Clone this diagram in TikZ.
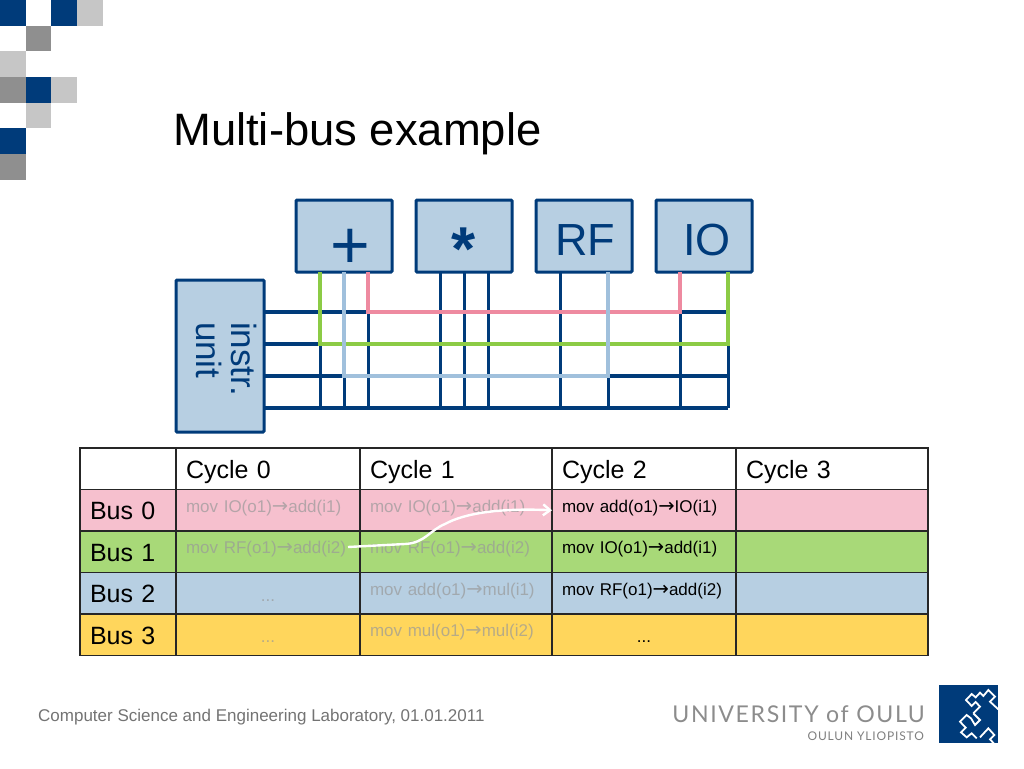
\documentclass[tikz,border=0pt]{standalone}
\usepackage{fontspec}
\setmainfont{Liberation Sans}
\newfontfamily\logofont[LetterSpace=7]{Lato}
\newfontfamily\arrowfont{DejaVu Sans}
\newcommand{\movto}{{\arrowfont\fontsize{19.5}{18}\selectfont →}}
\usetikzlibrary{arrows.meta}
\definecolor{navy}{HTML}{003B7A}
\definecolor{boxblue}{HTML}{B7CFE2}
\definecolor{rowpink}{HTML}{F6C0CE}
\definecolor{rowgreen}{HTML}{A8D978}
\definecolor{rowyellow}{HTML}{FFD65C}
\definecolor{wirepink}{HTML}{EE8AA0}
\definecolor{wiregreen}{HTML}{8CCB45}
\definecolor{wireblue}{HTML}{A0C0DC}
\definecolor{checkgray}{HTML}{8F8F8F}
\definecolor{checklight}{HTML}{C6C6C6}
\tikzset{
  unitbox/.style={draw=navy, line width=3pt, fill=boxblue, text=navy, minimum width=96pt, minimum height=72pt, inner sep=0pt, outer sep=0pt, rounded corners=1pt, font=\fontsize{45}{45}\selectfont},
  wire/.style={draw=navy, line width=3pt},
  busline/.style={draw=navy, line width=4pt},
  livewire/.style={line width=4pt},
  cell/.style={draw=black!85, line width=1.8pt, anchor=north west, inner ysep=0pt, inner xsep=10pt, outer sep=0pt, align=left},
  bigcell/.style={cell, font=\fontsize{25}{25}\selectfont, text height=30pt, text depth=11.5pt},
  movcell/.style={cell, font=\fontsize{17}{18}\selectfont, text height=22.5pt, text depth=19pt},
  faded/.style={text=black!40, text opacity=.7},
  plain/.style={text=black},
}
\begin{document}
\begin{tikzpicture}[x=1pt, y=-1pt]
\useasboundingbox (0,0) rectangle (1024,768);
% corner squares
\foreach \col/\row/\shade in {0/0/navy, 2/0/navy, 3/0/checklight, 1/1/checkgray, 0/2/checklight, 0/3/checkgray, 1/3/navy, 2/3/checklight, 1/4/checklight, 0/5/navy, 0/6/checkgray}
  \fill[\shade] (\col*25.67,\row*25.67) rectangle ++(25.67,25.67);
\node[anchor=base west, inner sep=0pt, font=\fontsize{45.4}{46}\selectfont] (title) at (173,145) {Multi-bus example};
% function units
\node[unitbox] (add) at (344,236) {\hspace*{12pt}\raisebox{-32pt}[0pt][0pt]{\fontsize{68}{68}\selectfont +}};
\node[unitbox] (mul) at (464,236) {\raisebox{-34pt}[0pt][0pt]{\fontsize{62}{62}\selectfont\bfseries *}};
\node[unitbox] (rf) at (584,236) {\hspace*{2pt}\raisebox{-19pt}[0pt][0pt]{RF}};
\node[unitbox] (io) at (704,236) {\hspace*{6pt}\raisebox{-19pt}[0pt][0pt]{IO}};
\node[unitbox, minimum width=88pt, minimum height=152pt] (instr) at (220,356) {};
\node[rotate=-90, inner sep=0pt, align=left, text=navy, font=\fontsize{35}{35}\selectfont] (instrtext) at (227,359) {instr.\\unit};
% buses
\foreach \bus/\ypos in {0/312, 1/344, 2/376, 3/408} {
  \coordinate (l\bus) at (264,\ypos);
  \coordinate (r\bus) at (728,\ypos);
  \draw[busline] (l\bus) -- (r\bus);
}
\foreach \xpos in {320,344,368,440,464,488,560,608,680,728} {
  \coordinate (t\xpos) at (\xpos,272);
  \coordinate (b\xpos) at (\xpos,408);
  \draw[wire] (t\xpos) -- (b\xpos);
}
% active transfers
\draw[livewire, wirepink] (t368) |- (t680 |- l0) -- (t680);
\draw[livewire, wiregreen] (t320) |- (t728 |- l1) -- (t728);
\draw[livewire, wireblue] (t344) |- (t608 |- l2) -- (t608);
% table
\node[bigcell, fill=white, text width=76pt] (head) at (80,448) {};
\foreach \name/\xpos/\wid/\txt in {h0/176/184/Cycle 0, h1/360/192/Cycle 1, h2/552/184/Cycle 2, h3/736/192/Cycle 3}
  \node[bigcell, fill=white, text width=\wid pt-20pt] (\name) at (\xpos,448) {\txt};
\foreach \name/\ypos/\shade/\txt in {bus0/489.5/rowpink/Bus 0, bus1/531/rowgreen/Bus 1, bus2/572.5/boxblue/Bus 2, bus3/614/rowyellow/Bus 3}
  \node[bigcell, fill=\shade, text width=76pt] (\name) at (80,\ypos) {\txt};
\foreach \name/\xpos/\wid/\ypos/\shade/\look/\txt in {
  p00/176/184/489.5/rowpink/faded/{mov IO(o1)\movto add(i1)},
  p01/360/192/489.5/rowpink/faded/{mov IO(o1)\movto add(i1)},
  p02/552/184/489.5/rowpink/plain/{mov add(o1)\movto IO(i1)},
  p03/736/192/489.5/rowpink/plain/{},
  g00/176/184/531/rowgreen/faded/{mov RF(o1)\movto add(i2)},
  g01/360/192/531/rowgreen/faded/{mov RF(o1)\movto add(i2)},
  g02/552/184/531/rowgreen/plain/{mov IO(o1)\movto add(i1)},
  g03/736/192/531/rowgreen/plain/{},
  b01/360/192/572.5/boxblue/faded/{mov add(o1)\movto mul(i1)},
  b02/552/184/572.5/boxblue/plain/{mov RF(o1)\movto add(i2)},
  b03/736/192/572.5/boxblue/plain/{},
  y01/360/192/614/rowyellow/faded/{mov mul(o1)\movto mul(i2)},
  y03/736/192/614/rowyellow/plain/{}}
  \node[movcell, fill=\shade, \look, text width=\wid pt-20pt] (\name) at (\xpos,\ypos) {\txt};
\foreach \name/\xpos/\wid/\ypos/\shade/\look in {b00/176/184/572.5/boxblue/faded, y00/176/184/614/rowyellow/faded, y02/552/184/614/rowyellow/plain}
  \node[movcell, fill=\shade, \look, text width=\wid pt-20pt, align=center, text height=28.5pt, text depth=13pt] (\name) at (\xpos,\ypos) {...};
% white arrow
\coordinate (from) at (348,547);
\draw[white, line width=2.4pt, -{Straight Barb[length=7pt,width=11pt]}] (from) -- (405,544) .. controls (425,543) and (430,530) .. (445,524) .. controls (465,513) and (500,508) .. (p02.west);
% footer
\node[anchor=base west, inner sep=0pt, text=black!55, font=\fontsize{17}{18}\selectfont] (foot) at (38,721) {Computer Science and Engineering Laboratory, 01.01.2011};
\node[anchor=base east, inner sep=0pt, text=black!45, font=\logofont\fontsize{23.1}{24}\selectfont] (uni) at (925,722) {UNIVERSITY of OULU};
\node[anchor=base east, inner sep=0pt, text=black!50, font=\logofont\fontsize{12}{12}\selectfont] (yli) at (924,740) {OULUN YLIOPISTO};
\fill[navy] (939,685) rectangle (998,743);
\begin{scope}[shift={(935,680)}, x=.3333pt, y=-.3333pt]
\clip (12,15) rectangle (189,189);
\draw[white, line width=1.8pt] (190,88) -- (165,65) -- (180,50) -- (160,30) -- (145,48) -- (135,38) -- (122,52) -- (110,42) -- (93,60) -- (110,78) -- (122,66) -- (135,80) -- (115,100);
\draw[white, line width=1.8pt] (115,100) -- (135,120) -- (120,135) -- (108,115) -- (95,105) -- (75,125) -- (92,143) -- (78,157) -- (95,172) -- (110,160) -- (125,175);
\draw[white, line width=1.8pt] (135,172) -- (160,145) -- (178,165) -- (165,178) -- (178,192);
\end{scope}
\end{tikzpicture}
\end{document}
